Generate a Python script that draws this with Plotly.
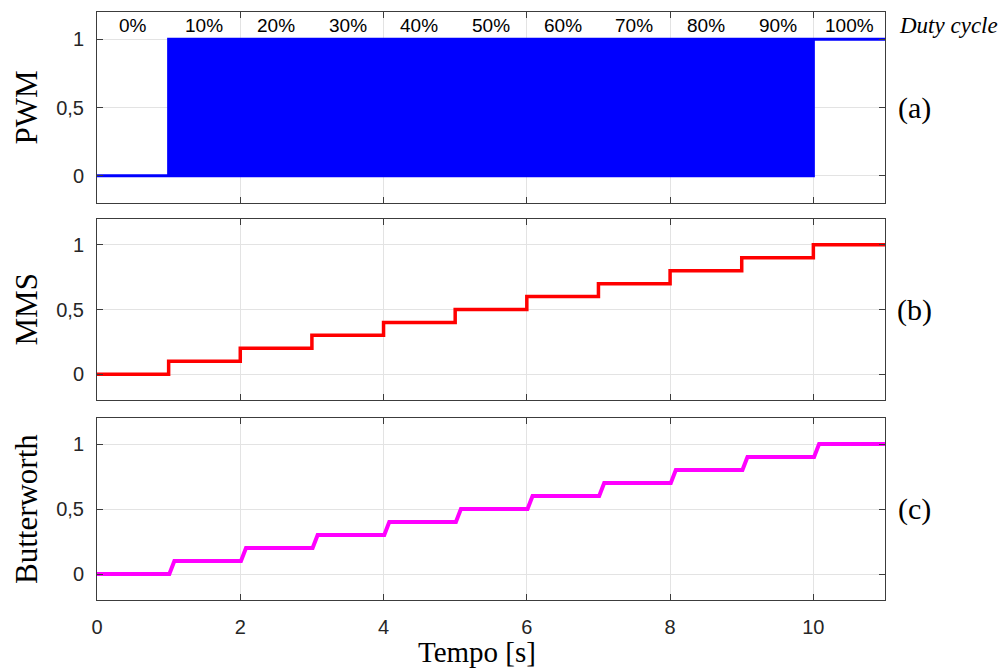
import numpy as np
import plotly.graph_objects as go

# ---- data -------------------------------------------------------------
# duty cycle applied during each 1 s interval (0-1 s ... 10-11 s)
duty_cycle = [0.0, 0.1, 0.2, 0.3, 0.4, 0.5, 0.6, 0.7, 0.8, 0.9, 1.0]
duty_labels = ["0%", "10%", "20%", "30%", "40%", "50%", "60%", "70%", "80%", "90%", "100%"]
step_times = [0, 1, 2, 3, 4, 5, 6, 7, 8, 9, 10, 11]

# estimated level of each filter output in every interval
mms_levels = [0.0, 0.1, 0.2, 0.3, 0.4, 0.5, 0.6, 0.7, 0.8, 0.9, 1.0]
butter_levels = [0.0, 0.1, 0.2, 0.3, 0.4, 0.5, 0.6, 0.7, 0.8, 0.9, 1.0]

y_ticks = [0, 0.5, 1]
y_ticktext = ["0", "0,5", "1"]
x_ticks = [0, 2, 4, 6, 8, 10]
panel_tags = ["(a)", "(b)", "(c)"]

# ---- signals ------------------------------------------------------------
carrier_period = 0.01


def pwm_wave(duties, times, period):
    xs, ys = [], []
    for d, t0, t1 in zip(duties, times[:-1], times[1:]):
        if d <= 0 or d >= 1:
            xs += [t0, t1]
            ys += [d, d]
            continue
        n = int(round((t1 - t0) / period))
        for i in range(n):
            a = t0 + i * period
            xs += [a, a, a + d * period, a + d * period]
            ys += [0, 1, 1, 0]
        xs.append(t1)
        ys.append(0)
    return xs, ys


def step_wave(levels, times, delay=0.0, rise=0.0):
    xs, ys = [times[0]], [levels[0]]
    for k in range(1, len(levels)):
        t = times[k]
        xs += [t + delay, t + delay + rise]
        ys += [levels[k - 1], levels[k]]
    xs.append(times[-1])
    ys.append(levels[-1])
    return xs, ys


pwm_x, pwm_y = pwm_wave(duty_cycle, step_times, carrier_period)
mms_x, mms_y = step_wave(mms_levels, step_times)
but_x, but_y = step_wave(butter_levels, step_times, delay=0.01, rise=0.07)

# ---- figure -------------------------------------------------------------
W, H = 1003, 669
fig = go.Figure()

fig.add_trace(go.Scatter(x=pwm_x, y=pwm_y, mode="lines", xaxis="x3", yaxis="y3",
                         line=dict(color="#0000ff", width=3, simplify=False),
                         hoverinfo="skip", showlegend=False))
fig.add_trace(go.Scatter(x=mms_x, y=mms_y, mode="lines", xaxis="x2", yaxis="y2",
                         line=dict(color="#ff0000", width=3.5),
                         showlegend=False))
fig.add_trace(go.Scatter(x=but_x, y=but_y, mode="lines", xaxis="x", yaxis="y",
                         line=dict(color="#ff00ff", width=4),
                         showlegend=False))


def px_dom(top, bottom):
    return [1 - bottom / H, 1 - top / H]


x_dom = [97 / W, 885 / W]
axis_col = "#3c3c3c"
sans = "Liberation Sans, Arial, sans-serif"
tick_font = dict(family=sans, size=20, color="#262626")

common_x = dict(range=[0, 11], domain=x_dom, tickvals=x_ticks, showgrid=True,
                gridcolor="#e3e3e3", gridwidth=1, showline=True, linecolor=axis_col,
                linewidth=1, mirror="allticks", ticks="inside", ticklen=6,
                tickcolor=axis_col, zeroline=False, tickfont=tick_font, automargin=False)
common_y = dict(range=[-0.2, 1.2], tickvals=y_ticks, ticktext=y_ticktext,
                showgrid=True, gridcolor="#e3e3e3", gridwidth=1, showline=True,
                linecolor=axis_col, linewidth=1, mirror="allticks", ticks="inside",
                ticklen=6, tickcolor=axis_col, zeroline=False, tickfont=tick_font,
                ticklabelstandoff=8, automargin=False)

fig.update_layout(
    template="none",
    width=W, height=H,
    margin=dict(l=0, r=0, t=0, b=0),
    paper_bgcolor="white", plot_bgcolor="white",
    xaxis=dict(**common_x, anchor="y", showticklabels=True, ticklabelstandoff=9),
    xaxis2=dict(**common_x, anchor="y2", matches="x", showticklabels=False),
    xaxis3=dict(**common_x, anchor="y3", matches="x", showticklabels=False),
    yaxis=dict(**common_y, domain=px_dom(418, 600), anchor="x"),
    yaxis2=dict(**common_y, domain=px_dom(219, 400), anchor="x2"),
    yaxis3=dict(**common_y, domain=px_dom(12, 203), anchor="x3"),
)

serif = "Liberation Serif, Times New Roman, serif"
ann = []
# duty cycle labels inside the PWM panel
for i, lab in enumerate(duty_labels):
    ann.append(dict(x=step_times[i] + 0.5, y=1.1, xref="x3", yref="y3", text=lab,
                    showarrow=False, font=dict(family=sans, size=19, color="black")))
ann.append(dict(x=897 / W, y=1.1, xref="paper", yref="y3", text="<i>Duty cycle</i>",
                xanchor="left", showarrow=False,
                font=dict(family=serif, size=23, color="black")))

# y-axis titles
for name, yref in [("PWM", "y3 domain"), ("MMS", "y2 domain"), ("Butterworth", "y domain")]:
    ann.append(dict(x=26 / W, y=0.5, xref="paper", yref=yref, text=name, textangle=-90,
                    showarrow=False, xanchor="center", yanchor="middle",
                    font=dict(family=serif, size=31, color="black")))

# panel tags on the right
for tag, yref in zip(panel_tags, ["y3", "y2", "y"]):
    ann.append(dict(x=914 / W, y=0.5, xref="paper", yref=yref, text=tag,
                    showarrow=False, xanchor="center", yanchor="middle",
                    font=dict(family=serif, size=30, color="black")))

# x-axis title
ann.append(dict(x=477 / W, y=0, xref="paper", yref="paper", text="Tempo [s]",
                showarrow=False, xanchor="center", yanchor="bottom", borderpad=0,
                font=dict(family=serif, size=29, color="black")))

fig.update_layout(annotations=ann)
fig.write_html("out.html")
